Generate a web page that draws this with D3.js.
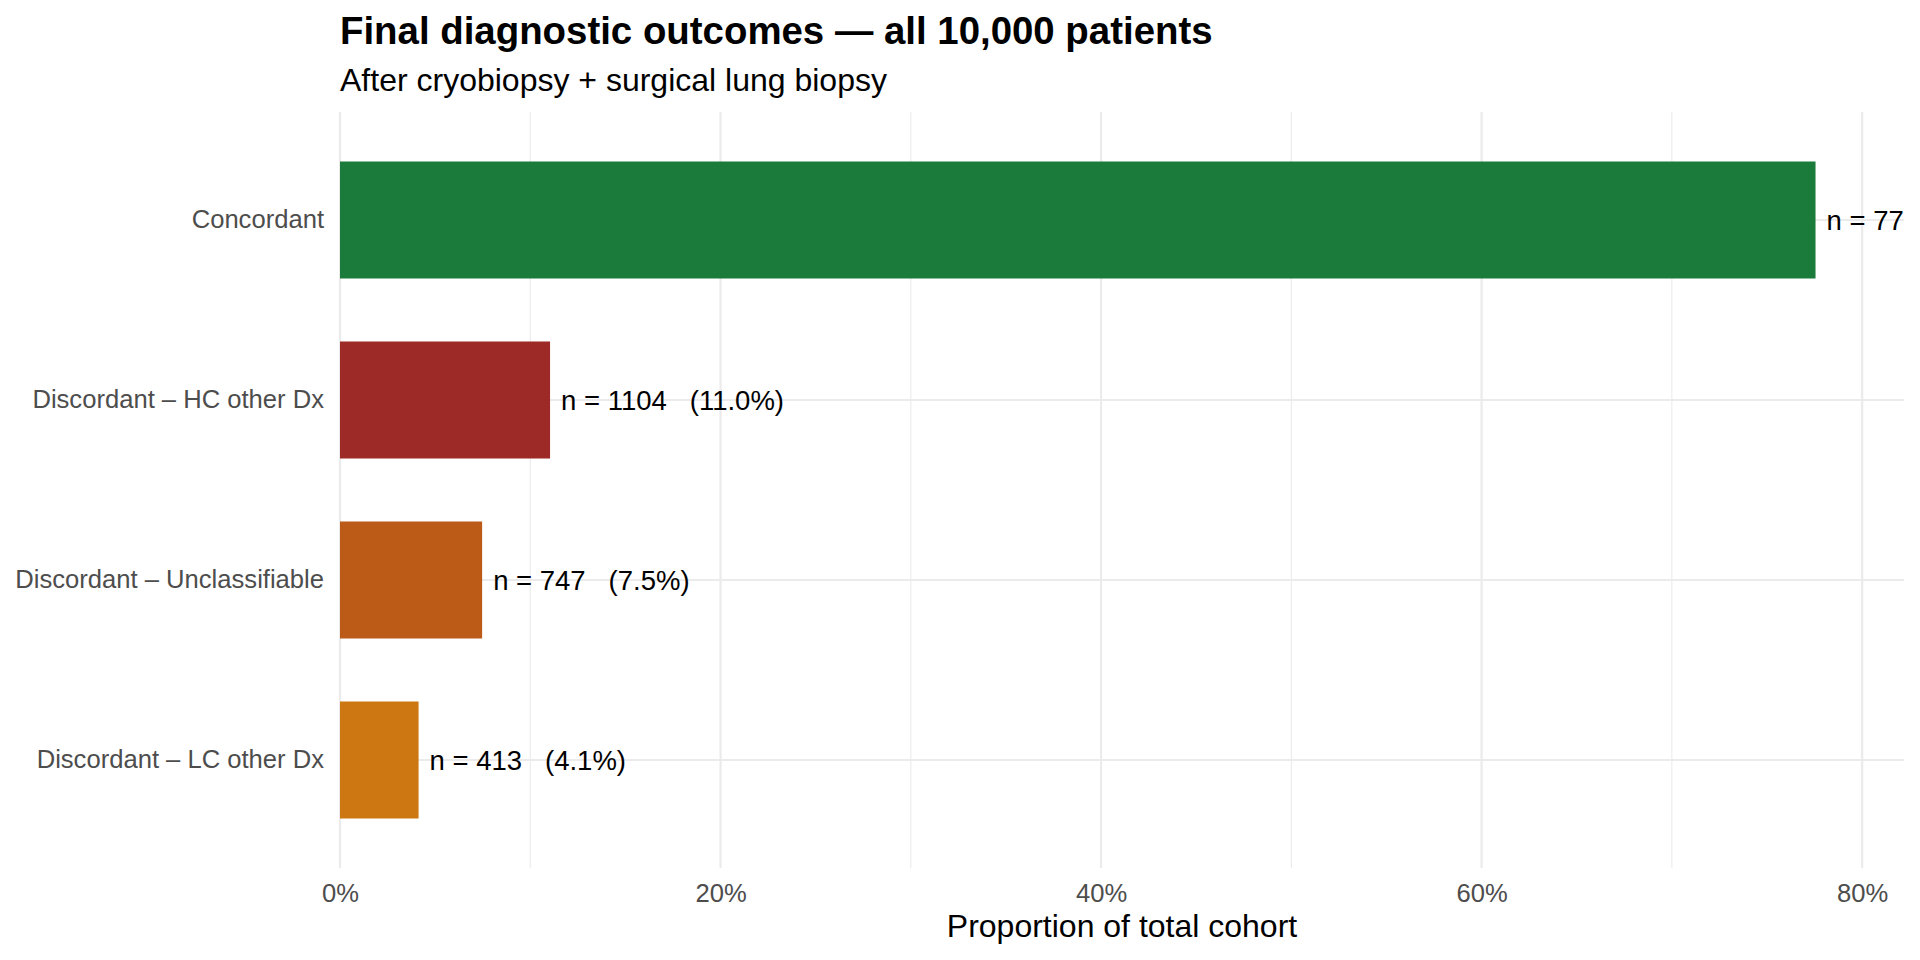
<!DOCTYPE html>
<html>
<head>
<meta charset="utf-8">
<script src="https://cdn.jsdelivr.net/npm/d3@7"></script>
<style>
  body { margin: 0; background: #fff; }
  text { font-family: "Liberation Sans", Arial, Helvetica, sans-serif; }
</style>
</head>
<body>
<svg id="chart" width="1920" height="960"></svg>
<script>
// Data
const categories = ["Concordant", "Discordant \u2013 HC other Dx", "Discordant \u2013 Unclassifiable", "Discordant \u2013 LC other Dx"];
const counts = [7755, 1104, 747, 413];
const percents = [77.55, 11.04, 7.47, 4.13];
const barColors = ["#1b7b3a", "#9e2a27", "#bc5b18", "#cc7711"];
const majorTicks = [0, 20, 40, 60, 80];
const minorTicks = [10, 30, 50, 70];

const data = categories.map((c, i) => ({
    cat: c, n: counts[i], pct: percents[i], color: barColors[i]
}));

const width = 1920, height = 960;
const svg = d3.select("#chart");

// Panel bounds
const panel = {left: 340, right: 1904, top: 112, bottom: 868};

// Scales
const xScale = d3.scaleLinear()
    .domain([0, 82.2])
    .range([panel.left, panel.right]);

const yScale = d3.scaleBand()
    .domain(categories)
    .range([panel.top, panel.bottom])
    .paddingInner(0.35)
    .paddingOuter(0.275);

// Clip for the panel (the long label is cut at the right edge, as in the original)
svg.append("defs").append("clipPath")
    .attr("id", "panel-clip")
    .append("rect")
    .attr("x", panel.left)
    .attr("y", panel.top)
    .attr("width", panel.right - panel.left)
    .attr("height", panel.bottom - panel.top);

// Gridlines
const grid = svg.append("g").attr("class", "grid");

grid.selectAll(".minor")
    .data(minorTicks)
    .enter()
    .append("line")
    .attr("x1", d => xScale(d))
    .attr("x2", d => xScale(d))
    .attr("y1", panel.top)
    .attr("y2", panel.bottom)
    .attr("stroke", "#ebebeb")
    .attr("stroke-width", 1.1);

grid.selectAll(".major-x")
    .data(majorTicks)
    .enter()
    .append("line")
    .attr("x1", d => xScale(d))
    .attr("x2", d => xScale(d))
    .attr("y1", panel.top)
    .attr("y2", panel.bottom)
    .attr("stroke", "#ebebeb")
    .attr("stroke-width", 2.2);

grid.selectAll(".major-y")
    .data(categories)
    .enter()
    .append("line")
    .attr("x1", panel.left)
    .attr("x2", panel.right)
    .attr("y1", d => yScale(d) + yScale.bandwidth() / 2)
    .attr("y2", d => yScale(d) + yScale.bandwidth() / 2)
    .attr("stroke", "#ebebeb")
    .attr("stroke-width", 2.2);

// Bars
const plotArea = svg.append("g").attr("clip-path", "url(#panel-clip)");

plotArea.selectAll("rect.bar")
    .data(data)
    .enter()
    .append("rect")
    .attr("class", "bar")
    .attr("x", xScale(0))
    .attr("y", d => yScale(d.cat))
    .attr("width", d => xScale(d.pct) - xScale(0))
    .attr("height", yScale.bandwidth())
    .attr("fill", d => d.color);

// Bar labels
plotArea.selectAll("text.bar-label")
    .data(data)
    .enter()
    .append("text")
    .attr("class", "bar-label")
    .attr("x", d => xScale(d.pct) + 11)
    .attr("y", d => yScale(d.cat) + yScale.bandwidth() / 2)
    .attr("dy", "0.35em")
    .attr("font-size", "27.5px")
    .attr("fill", "#000")
    .attr("xml:space", "preserve")
    .style("white-space", "pre")
    .text(d => `n = ${d.n}   (${d.pct.toFixed(1)}%)`);

// Y axis labels
const yAxis = d3.axisLeft(yScale).tickSize(0).tickPadding(16);
const yg = svg.append("g")
    .attr("transform", `translate(${panel.left}, 0)`)
    .call(yAxis);
yg.select(".domain").remove();
yg.selectAll("text")
    .attr("font-size", "25.6px")
    .attr("fill", "#4d4d4d")
    .attr("font-family", "'Liberation Sans', Arial, sans-serif");

// X axis labels
const xAxis = d3.axisBottom(xScale)
    .tickValues(majorTicks)
    .tickFormat(d => d + "%")
    .tickSize(0)
    .tickPadding(0);
const xg = svg.append("g")
    .attr("transform", `translate(0, ${panel.bottom})`)
    .call(xAxis);
xg.select(".domain").remove();
xg.selectAll("text")
    .attr("font-size", "25.6px")
    .attr("fill", "#4d4d4d")
    .attr("font-family", "'Liberation Sans', Arial, sans-serif")
    .attr("dy", null)
    .attr("y", 34);

// Axis title
svg.append("text")
    .attr("text-anchor", "middle")
    .attr("x", (panel.left + panel.right) / 2)
    .attr("y", 937)
    .attr("font-size", "32px")
    .attr("fill", "#000")
    .text("Proportion of total cohort");

// Title and subtitle
svg.append("text")
    .attr("x", panel.left)
    .attr("y", 44)
    .attr("font-size", "38.4px")
    .attr("font-weight", "bold")
    .attr("fill", "#000")
    .text("Final diagnostic outcomes \u2014 all 10,000 patients");

svg.append("text")
    .attr("x", panel.left)
    .attr("y", 91)
    .attr("font-size", "32px")
    .attr("fill", "#000")
    .text("After cryobiopsy + surgical lung biopsy");
</script>
</body>
</html>
